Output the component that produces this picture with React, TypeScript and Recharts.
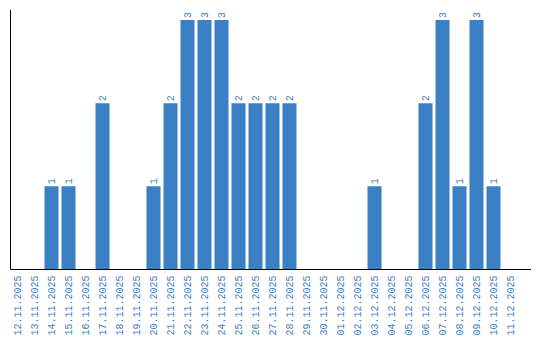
import { BarChart, Bar, XAxis, YAxis, LabelList } from "recharts"

const dates = [
  "12.11.2025", "13.11.2025", "14.11.2025", "15.11.2025", "16.11.2025",
  "17.11.2025", "18.11.2025", "19.11.2025", "20.11.2025", "21.11.2025",
  "22.11.2025", "23.11.2025", "24.11.2025", "25.11.2025", "26.11.2025",
  "27.11.2025", "28.11.2025", "29.11.2025", "30.11.2025", "01.12.2025",
  "02.12.2025", "03.12.2025", "04.12.2025", "05.12.2025", "06.12.2025",
  "07.12.2025", "08.12.2025", "09.12.2025", "10.12.2025", "11.12.2025",
]

const counts = [
  0, 0, 1, 1, 0, 2, 0, 0, 1, 2,
  3, 3, 3, 2, 2, 2, 2, 0, 0, 0,
  0, 1, 0, 0, 2, 3, 1, 3, 1, 0,
]

const data = dates.map((date, i) => ({ date, count: counts[i] }))

const BLUE = "#3b7fc4"
const FONT = "'Liberation Mono', monospace"

const DateTick = (props: any) => {
  const { x, y, payload } = props
  return (
    <text
      x={x}
      y={y}
      transform={`rotate(-90, ${x}, ${y})`}
      textAnchor="end"
      dy="0.35em"
      fill={BLUE}
      fontSize={10}
      fontFamily={FONT}
    >
      {payload.value}
    </text>
  )
}

const ValueLabel = (props: any) => {
  const { x, y, width, value } = props
  if (!value) return null
  const cx = x + width / 2
  const cy = y - 2
  return (
    <text
      x={cx}
      y={cy}
      transform={`rotate(-90, ${cx}, ${cy})`}
      textAnchor="start"
      dy="0.35em"
      fill={BLUE}
      fontSize={10}
      fontFamily={FONT}
    >
      {value}
    </text>
  )
}

export default function App() {
  return (
    <div style={{ position: "absolute", left: 0, top: 0, background: "#fff" }}>
      <BarChart
        width={540}
        height={340}
        data={data}
        margin={{ top: 10, right: 9, bottom: 0, left: 9.5 }}
        barCategoryGap={0}
        barSize={14}
      >
        <XAxis
          dataKey="date"
          interval={0}
          height={70.5}
          tickLine={false}
          tickSize={0}
          tickMargin={6}
          tick={<DateTick />}
          axisLine={{ stroke: "#000" }}
          padding={{ left: -2, right: 12.5 }}
        />
        <YAxis
          width={1}
          domain={[0, 3.12]}
          tick={false}
          tickLine={false}
          axisLine={{ stroke: "#000" }}
        />
        <Bar dataKey="count" fill={BLUE} isAnimationActive={false}>
          <LabelList dataKey="count" content={<ValueLabel />} />
        </Bar>
      </BarChart>
    </div>
  )
}
